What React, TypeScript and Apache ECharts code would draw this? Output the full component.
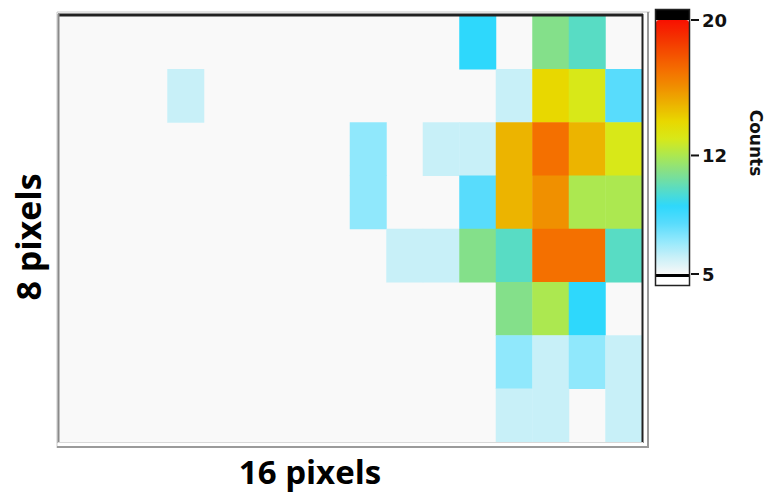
import React, { useEffect, useRef } from "react";
import * as echarts from "echarts";

// 16 x 8 detector pixel counts, rows listed top to bottom, 0 = empty pixel
const pixelColumns = ["1","2","3","4","5","6","7","8","9","10","11","12","13","14","15","16"];
const pixelRows = ["1","2","3","4","5","6","7","8"];
const row1 = [0,0,0,0,0,0,0,0,0,0,0,9,0,11,10,0];
const row2 = [0,0,0,6,0,0,0,0,0,0,0,0,6,14,13,8];
const row3 = [0,0,0,0,0,0,0,0,7,0,6,6,15,17,15,13];
const row4 = [0,0,0,0,0,0,0,0,7,0,0,8,15,16,12,12];
const row5 = [0,0,0,0,0,0,0,0,0,6,6,11,10,17,17,10];
const row6 = [0,0,0,0,0,0,0,0,0,0,0,0,11,12,9,0];
const row7 = [0,0,0,0,0,0,0,0,0,0,0,0,7,6,7,6];
const row8 = [0,0,0,0,0,0,0,0,0,0,0,0,6,6,0,6];
const countRows = [row1, row2, row3, row4, row5, row6, row7, row8];

// colour scale: one stop per count from 5 to 20
const scaleMin = 5;
const scaleMax = 20;
const scaleColors = [
  "#f8f8f8", "#c8f0f8", "#90e8fc", "#58dcfc", "#2ed8fc", "#58dcc4",
  "#84e08a", "#ace850", "#d8e818", "#e8d800", "#ecb400", "#f09000",
  "#f47000", "#f45000", "#f43000", "#f81000",
];
const scaleTicks = [20, 12, 5];

export default function App() {
  const ref = useRef<HTMLDivElement>(null);

  useEffect(() => {
    if (!ref.current) return;
    const chart = echarts.init(ref.current, null, { renderer: "svg" });

    const cells: number[][] = [];
    countRows.forEach((row, r) =>
      row.forEach((v, c) => {
        if (v > 0) cells.push([c, r, v]);
      })
    );

    // colour bar geometry
    const barLeft = 656;
    const barWidth = 33;
    const barTop = 20;
    const barBottom = 274;
    const valueToY = (v: number) =>
      barBottom - ((v - scaleMin) / (scaleMax - scaleMin)) * (barBottom - barTop);

    const tickGraphics: any[] = [];
    scaleTicks.forEach((t) => {
      const y = valueToY(t);
      tickGraphics.push({
        type: "line",
        shape: { x1: 691, y1: y, x2: 699, y2: y },
        style: { stroke: "#111", lineWidth: 2 },
        z: 20,
      });
      tickGraphics.push({
        type: "text",
        x: 702,
        y: y,
        style: {
          text: String(t),
          fill: "#111",
          font: "bold 18px 'DejaVu Sans', sans-serif",
          align: "left",
          verticalAlign: "middle",
        },
        z: 20,
      });
    });

    chart.setOption({
      animation: false,
      backgroundColor: "#ffffff",
      grid: {
        left: 58,
        top: 16,
        width: 584,
        height: 426,
        show: true,
        backgroundColor: "#f9f9f9",
        borderWidth: 0,
      },
      xAxis: {
        type: "category",
        data: pixelColumns,
        show: false,
        boundaryGap: true,
      },
      yAxis: {
        type: "category",
        data: pixelRows,
        show: false,
        inverse: true,
        boundaryGap: true,
      },
      visualMap: {
        type: "continuous",
        min: scaleMin,
        max: scaleMax,
        dimension: 2,
        orient: "vertical",
        left: barLeft,
        top: barTop,
        itemWidth: barWidth,
        itemHeight: barBottom - barTop,
        padding: 0,
        calculable: false,
        hoverLink: false,
        inRange: { color: scaleColors },
        outOfRange: { color: "#f9f9f9" },
      },
      series: [
        {
          type: "heatmap",
          data: cells,
          itemStyle: { borderWidth: 0 },
          emphasis: { disabled: true },
        },
      ],
      graphic: [
        // outer bevel frame
        { type: "line", shape: { x1: 57, y1: 12, x2: 650, y2: 12 }, style: { stroke: "#c8c8c8", lineWidth: 1 } },
        { type: "line", shape: { x1: 57, y1: 12, x2: 57, y2: 448 }, style: { stroke: "#c8c8c8", lineWidth: 1 } },
        { type: "line", shape: { x1: 648, y1: 12, x2: 648, y2: 448 }, style: { stroke: "#9a9a9a", lineWidth: 2 } },
        { type: "line", shape: { x1: 57, y1: 447, x2: 649, y2: 447 }, style: { stroke: "#9a9a9a", lineWidth: 2 } },
        // plot border
        { type: "line", shape: { x1: 58, y1: 15, x2: 643, y2: 15 }, style: { stroke: "#222", lineWidth: 3 }, z: 10 },
        { type: "line", shape: { x1: 642.5, y1: 14, x2: 642.5, y2: 443 }, style: { stroke: "#222", lineWidth: 2 }, z: 10 },
        { type: "line", shape: { x1: 58.5, y1: 14, x2: 58.5, y2: 443 }, style: { stroke: "#8a8a8a", lineWidth: 2 }, z: 10 },
        { type: "line", shape: { x1: 58, y1: 442.5, x2: 643, y2: 442.5 }, style: { stroke: "#d8d8d8", lineWidth: 1 }, z: 10 },
        // colour bar over-range cap, under-range box and frame
        { type: "rect", shape: { x: 655, y: 9, width: 35, height: 11 }, style: { fill: "#000" }, z: 20 },
        { type: "rect", shape: { x: 656, y: 276, width: 33, height: 9 }, style: { fill: "#ffffff" }, z: 20 },
        { type: "line", shape: { x1: 655, y1: 275.5, x2: 690, y2: 275.5 }, style: { stroke: "#000", lineWidth: 3 }, z: 21 },
        { type: "rect", shape: { x: 655.5, y: 9.5, width: 34, height: 276 }, style: { fill: "none", stroke: "#222", lineWidth: 1.5 }, z: 21 },
        ...tickGraphics,
        {
          type: "text",
          x: 756,
          y: 143,
          rotation: -Math.PI / 2,
          style: {
            text: "Counts",
            fill: "#111",
            font: "bold 17px 'DejaVu Sans', sans-serif",
            align: "center",
            verticalAlign: "middle",
          },
        },
        {
          type: "text",
          x: 28,
          y: 237,
          rotation: Math.PI / 2,
          style: {
            text: "8 pixels",
            fill: "#000",
            font: "bold 34px 'Open Sans', sans-serif",
            align: "center",
            verticalAlign: "middle",
          },
        },
        {
          type: "text",
          x: 310,
          y: 471,
          style: {
            text: "16 pixels",
            fill: "#000",
            font: "bold 33px 'Open Sans', sans-serif",
            lineHeight: 36,
            align: "center",
            verticalAlign: "middle",
          },
        },
      ],
    });

    return () => chart.dispose();
  }, []);

  return (
    <div
      ref={ref}
      style={{ position: "fixed", left: 0, top: 0, width: 768, height: 493 }}
    />
  );
}
